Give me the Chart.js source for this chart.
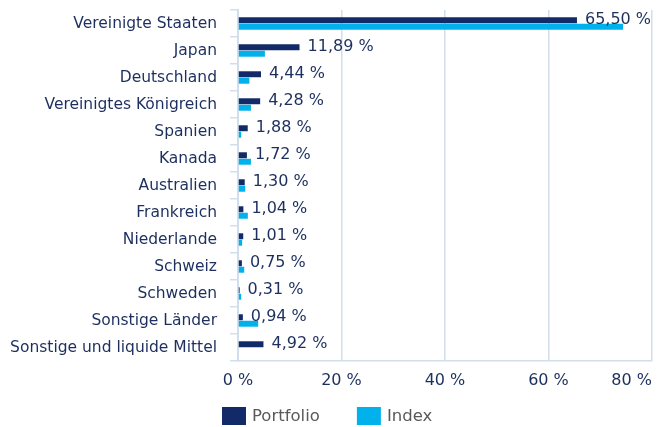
<!DOCTYPE html>
<html><head><meta charset="utf-8">
<script src="https://cdn.jsdelivr.net/npm/chart.js@4/dist/chart.umd.min.js"></script>
<style>html,body{margin:0;padding:0;background:#fff}</style>
</head><body>
<canvas id="c" width="665" height="427" style="display:block"></canvas>
<script>
const categories = ["Vereinigte Staaten","Japan","Deutschland","Vereinigtes Königreich","Spanien","Kanada","Australien","Frankreich","Niederlande","Schweiz","Schweden","Sonstige Länder","Sonstige und liquide Mittel"];
const portfolio = [65.50, 11.89, 4.44, 4.28, 1.88, 1.72, 1.30, 1.04, 1.01, 0.75, 0.31, 0.94, 4.92];
const indexVals = [74.4, 5.2, 2.2, 2.5, 0.6, 2.5, 1.4, 1.9, 0.8, 1.2, 0.6, 3.9, 0];
const xTicks = [0, 20, 40, 60, 80];
const seriesNames = ["Portfolio", "Index"];
const colors = ["#132a69", "#00b1ec"];
const textColor = "#1c2f5f";
const gridColor = "#d3deec";
const FONT = "'DejaVu Sans', Verdana, sans-serif";

const fmt = v => v.toFixed(2).replace('.', ',') + ' %';

const overlay = {
  id: 'overlay',
  afterDatasetsDraw(chart) {
    const ctx = chart.ctx;
    const meta = chart.getDatasetMeta(0);
    ctx.save();
    ctx.fillStyle = textColor;
    ctx.font = "16px " + FONT;
    ctx.textAlign = 'left';
    ctx.textBaseline = 'middle';
    meta.data.forEach((bar, i) => {
      ctx.fillText(fmt(portfolio[i]), bar.x + 8, bar.y);
    });
    const xs = chart.scales.x;
    xTicks.forEach((t) => {
      const lab = t + ' %';
      const w = ctx.measureText(lab).width;
      let x = xs.getPixelForValue(t) - w / 2;
      if (x + w > xs.right) x = xs.right - w;
      ctx.fillText(lab, x, 381);
    });
    let x = 222;
    ctx.font = "16.5px " + FONT;
    seriesNames.forEach((n, i) => {
      ctx.fillStyle = colors[i];
      ctx.fillRect(x, 407, 24, 18);
      ctx.fillStyle = '#595959';
      ctx.fillText(n, x + 30, 417);
      x += 30 + ctx.measureText(n).width + 37;
    });
    ctx.restore();
  }
};

new Chart(document.getElementById('c'), {
  type: 'bar',
  data: {
    labels: categories,
    datasets: [
      { label: seriesNames[0], data: portfolio, backgroundColor: colors[0], barPercentage: 0.92, categoryPercentage: 0.48 },
      { label: seriesNames[1], data: indexVals, backgroundColor: colors[1], barPercentage: 0.92, categoryPercentage: 0.48 }
    ]
  },
  options: {
    indexAxis: 'y',
    responsive: false,
    devicePixelRatio: 1,
    animation: false,
    layout: { padding: { top: 10, right: 13, left: 0, bottom: 0 } },
    plugins: { legend: { display: false }, tooltip: { enabled: false } },
    scales: {
      x: {
        min: 0, max: 80,
        ticks: { display: false, stepSize: 20 },
        grid: { color: gridColor, lineWidth: 1.5, drawTicks: false },
        border: { color: gridColor, width: 1.5 },
        afterFit(s) { s.height = 66; s.paddingLeft = 0; s.paddingRight = 0; }
      },
      y: {
        ticks: { color: textColor, font: { family: FONT, size: 15.5 }, padding: 13, autoSkip: false },
        grid: { color: gridColor, lineWidth: 1.5, drawOnChartArea: false, tickLength: 8 },
        border: { color: gridColor, width: 2 },
        afterFit(s) { s.width = 238; s.paddingTop = 0; s.paddingBottom = 0; }
      }
    }
  },
  plugins: [overlay]
});
</script>
</body></html>
